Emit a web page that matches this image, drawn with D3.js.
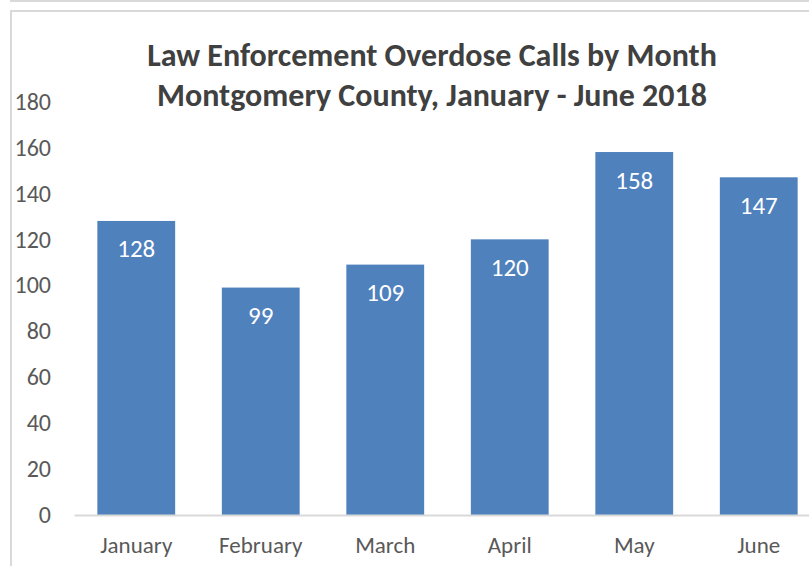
<!DOCTYPE html>
<html>
<head>
<meta charset="utf-8">
<script src="https://cdn.jsdelivr.net/npm/d3@7"></script>
<style>
  html, body { margin: 0; padding: 0; background: #fff; }
  svg { display: block; font-family: Carlito, Calibri, "Open Sans", sans-serif; }
</style>
</head>
<body>
<svg id="chart" width="809" height="566"></svg>
<script>
// Monthly law enforcement overdose calls, Montgomery County, Jan–Jun 2018
const months = ["January", "February", "March", "April", "May", "June"];
const calls = [128, 99, 109, 120, 158, 147];
const yTicks = [0, 20, 40, 60, 80, 100, 120, 140, 160, 180];
const titleLines = ["Law Enforcement Overdose Calls by Month", "Montgomery County, January - June 2018"];

const FONT = "Carlito, Calibri, 'Open Sans', sans-serif";
const svg = d3.select("#chart");
const W = 809, H = 566;

// outer frames
svg.append("line").attr("x1", 10).attr("x2", W).attr("y1", 1).attr("y2", 1)
  .attr("stroke", "#d9d9d9").attr("stroke-width", 2);
svg.append("path").attr("d", `M${W},11H11V${H}`)
  .attr("fill", "none").attr("stroke", "#d9d9d9").attr("stroke-width", 2);

const plot = { left: 74, right: 821, top: 101.5, bottom: 515 };

const x = d3.scaleBand().domain(months).range([plot.left, plot.right])
  .paddingInner(0.375).paddingOuter(0.1875);
const y = d3.scaleLinear().domain([0, 180]).range([plot.bottom, plot.top]);

// bars
svg.append("g").selectAll("rect").data(months).join("rect")
  .attr("x", d => x(d))
  .attr("width", x.bandwidth())
  .attr("y", (d, i) => y(calls[i]))
  .attr("height", (d, i) => y(0) - y(calls[i]))
  .attr("fill", "#4f81bd");

// value labels inside bars
svg.append("g").selectAll("text").data(months).join("text")
  .attr("x", d => x(d) + x.bandwidth() / 2)
  .attr("y", (d, i) => y(calls[i]) + 36.5)
  .attr("text-anchor", "middle")
  .attr("fill", "#fff")
  .attr("font-size", 25)
  .text((d, i) => calls[i]);

// y axis labels
const yAxis = d3.axisLeft(y).tickValues(yTicks).tickSize(0).tickPadding(0);
const gy = svg.append("g").attr("transform", "translate(51,0)").call(yAxis);
gy.select(".domain").remove();
gy.selectAll("text").attr("fill", "#595959").attr("font-size", 24)
  .attr("font-family", FONT);

// x axis
const xAxis = d3.axisBottom(x).tickSize(0).tickPadding(0);
const gx = svg.append("g").attr("transform", `translate(0,${plot.bottom})`).call(xAxis);
gx.select(".domain").attr("stroke", "#d9d9d9").attr("stroke-width", 2);
gx.selectAll("text").attr("fill", "#595959").attr("font-size", 23)
  .attr("dy", 0).attr("y", 38)
  .attr("font-family", FONT);

// title
svg.append("g").selectAll("text").data(titleLines).join("text")
  .attr("x", 432)
  .attr("y", (d, i) => 66 + i * 40)
  .attr("text-anchor", "middle")
  .attr("font-size", 32)
  .attr("font-weight", "bold")
  .attr("fill", "#404040")
  .text(d => d);
</script>
</body>
</html>
